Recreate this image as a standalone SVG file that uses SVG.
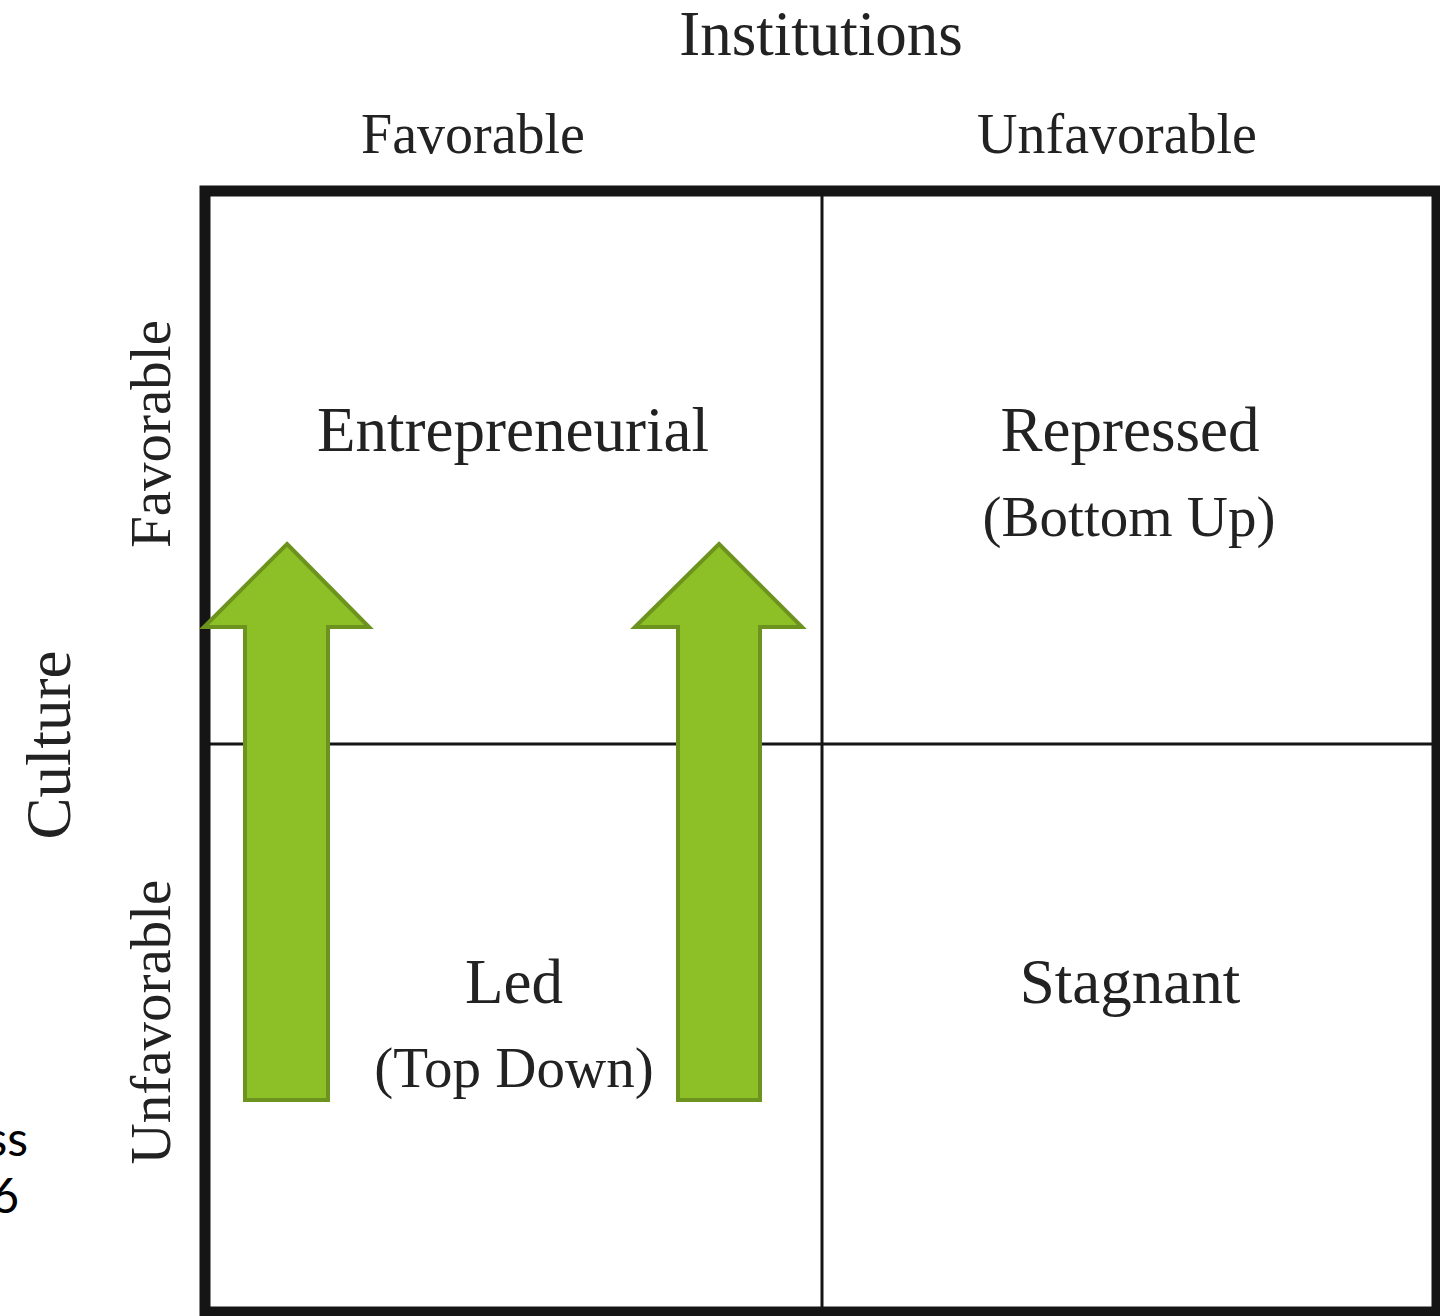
<svg xmlns="http://www.w3.org/2000/svg" width="1440" height="1316" viewBox="0 0 1440 1316">
<style>
.t{font-family:"Liberation Serif","Times New Roman",serif;fill:#222;text-anchor:middle}
.big{font-size:63px}
.mid{font-size:57px}
.hdr{font-size:56px}
.side{font-family:Lato,"Open Sans",sans-serif;font-size:48px;fill:#000;text-anchor:end}
.frame{fill:none;stroke:#151515}
.arrow{fill:#8DBF27;stroke:#6B931D;stroke-width:4;stroke-linejoin:miter}
</style>
<rect width="1440" height="1316" fill="#fff"/>
<g id="side-note">
<text class="side" x="28" y="1156">ss</text>
<text class="side" x="19" y="1213">6</text>
</g>
<g id="grid">
<rect class="frame" x="205" y="191" width="1232" height="1121" stroke-width="11"/>
<line class="frame" x1="822" y1="191" x2="822" y2="1312" stroke-width="3"/>
<line class="frame" x1="205" y1="744" x2="1437" y2="744" stroke-width="3"/>
</g>
<g id="axis-labels">
<text class="t big" x="821" y="55">Institutions</text>
<text class="t hdr" x="473" y="153">Favorable</text>
<text class="t hdr" x="1117" y="153">Unfavorable</text>
<text class="t big" transform="translate(70,745) rotate(-90)">Culture</text>
<text class="t mid" transform="translate(170,434) rotate(-90)">Favorable</text>
<text class="t mid" transform="translate(170,1022) rotate(-90)">Unfavorable</text>
</g>
<g id="q-entrepreneurial"><text class="t big" x="513" y="451">Entrepreneurial</text></g>
<g id="q-repressed">
<text class="t big" x="1130" y="451">Repressed</text>
<text class="t mid" x="1129" y="536">(Bottom Up)</text>
</g>
<g id="q-led">
<text class="t big" x="514" y="1003">Led</text>
<text class="t mid" x="514" y="1087">(Top Down)</text>
</g>
<g id="q-stagnant"><text class="t big" x="1130" y="1003">Stagnant</text></g>
<g id="connectors">
<polygon class="arrow" points="287,544 369,627 328,627 328,1100 245,1100 245,627 204,627"/>
<polygon class="arrow" points="719,544 802,627 760,627 760,1100 678,1100 678,627 635,627"/>
</g>
</svg>
